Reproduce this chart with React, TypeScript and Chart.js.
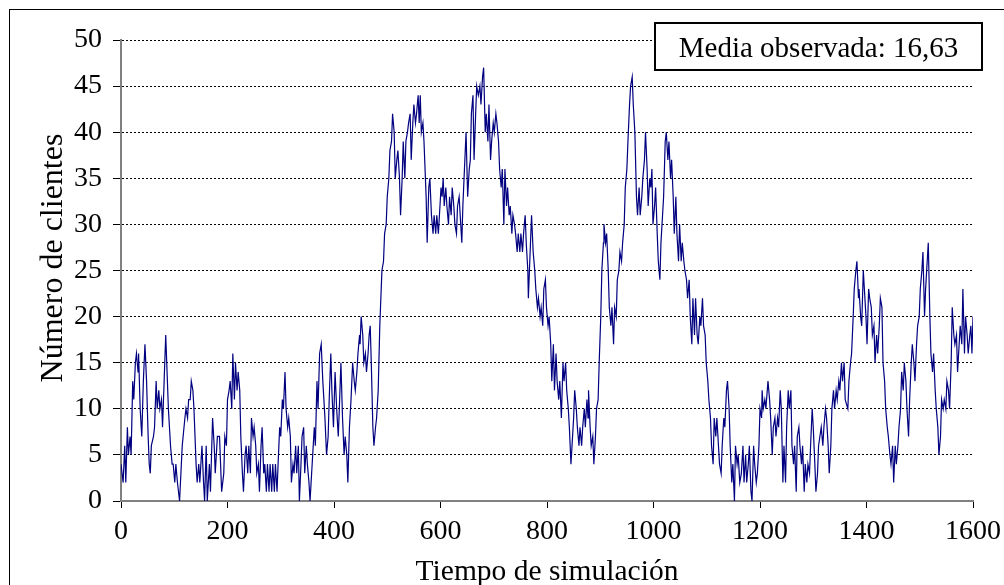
import { useEffect, useRef } from "react";
import { Chart, registerables } from "chart.js";

Chart.register(...registerables);

// Tiempo de simulación (eje X)
const tiempo: number[] = [
  0, 4, 7, 9, 12, 14, 17, 19, 22, 24, 27, 29, 32, 33, 36, 38, 39, 42, 45, 48, 51, 53, 55, 57, 61, 63, 66, 68, 71, 73, 76, 78, 81, 84, 89, 91, 93, 96, 98, 101, 103, 106, 110, 115, 120, 122, 125, 127, 130, 132, 135, 137, 141, 143, 146, 148, 152, 155, 157, 160, 162, 166, 168, 172, 175, 177, 181,
  185, 189, 193, 195, 198, 200, 203, 205, 208, 210, 213, 215, 218, 220, 223, 225, 228, 230, 233, 235, 238, 240, 243, 245, 248, 250, 253, 255, 258, 260, 263, 265, 268, 270, 273, 275, 278, 280, 283, 285, 288, 290, 293, 295, 298, 300, 303, 305, 308, 310, 313, 315, 318, 320, 323, 325, 328, 330, 333, 335, 338, 340, 343, 345, 348, 350, 353, 355, 358, 360, 363, 365, 368, 370, 373,
  376, 379, 383, 386, 389, 391, 394, 396, 399, 402, 405, 408, 410, 413, 416, 419, 421, 424, 426, 429, 432, 435, 438, 440, 443, 445, 448, 449, 451, 454, 456, 459, 461, 464, 466, 468, 470, 473, 475, 478, 480, 483, 486, 490, 493, 495, 498, 500, 503, 505, 508, 510, 513, 515, 518, 520, 523, 525, 528, 530, 533, 535, 538, 540, 543, 545, 548, 550, 553, 555, 558, 560, 562, 564, 567, 569, 573, 575, 578, 580,
  583, 586, 588, 591, 593, 596, 598, 601, 603, 605, 607, 610, 612, 615, 617, 620, 622, 625, 627, 630, 632, 635, 637, 640, 642, 645, 648, 651, 654, 656, 658, 661, 663, 666, 668, 671, 674, 676, 679, 681, 684, 686, 689, 691, 694, 696, 699, 701, 704, 706, 709, 711, 714, 716, 719, 721, 724, 726, 729, 731, 734, 736, 739, 741, 744, 746, 749, 751, 754, 756, 759, 761, 764, 765, 769, 771,
  774, 777, 779, 782, 784, 787, 789, 792, 794, 797, 799, 802, 804, 807, 809, 812, 814, 817, 819, 822, 824, 827, 830, 832, 835, 837, 840, 842, 845, 847, 850, 852, 855, 857, 860, 862, 865, 867, 870, 872, 875, 877, 878, 881, 883, 886, 888, 891, 893, 896, 898, 901, 903, 906, 907, 910, 912, 915, 917, 920, 922, 925, 927, 930, 932, 935, 937, 940, 942, 945, 947, 950, 952, 955, 957, 960, 962, 965,
  968, 970, 973, 975, 978, 980, 983, 985, 988, 990, 993, 995, 997, 999, 1002, 1004, 1007, 1009, 1012, 1014, 1017, 1019, 1022, 1024, 1027, 1029, 1032, 1034, 1037, 1039, 1042, 1044, 1047, 1049, 1052, 1054, 1057, 1059, 1062, 1064, 1067, 1069, 1072, 1074, 1077, 1079, 1082, 1084, 1087, 1089, 1092, 1094, 1097, 1099, 1102, 1104, 1107, 1109, 1112, 1114, 1117, 1119, 1122, 1124, 1127, 1129, 1132, 1134, 1137, 1139, 1142, 1144, 1147, 1149, 1152, 1154, 1157, 1159, 1162,
  1165, 1168, 1170, 1173, 1175, 1178, 1180, 1183, 1185, 1188, 1190, 1193, 1195, 1198, 1200, 1203, 1204, 1206, 1209, 1211, 1215, 1218, 1220, 1223, 1225, 1228, 1230, 1233, 1235, 1238, 1240, 1243, 1245, 1248, 1250, 1253, 1255, 1258, 1260, 1263, 1265, 1268, 1270, 1273, 1275, 1278, 1280, 1283, 1285, 1288, 1290, 1293, 1295, 1298, 1300, 1303, 1305, 1308, 1310, 1315, 1318, 1320, 1323, 1325, 1328, 1330, 1333, 1335, 1338, 1340, 1343, 1345, 1348, 1350, 1353, 1355, 1358, 1360,
  1365, 1367, 1370, 1372, 1375, 1377, 1380, 1382, 1385, 1386, 1389, 1391, 1394, 1396, 1399, 1401, 1404, 1406, 1409, 1411, 1414, 1416, 1419, 1421, 1424, 1426, 1429, 1431, 1434, 1436, 1439, 1441, 1444, 1446, 1449, 1451, 1454, 1456, 1459, 1461, 1464, 1466, 1469, 1471, 1474, 1476, 1479, 1481, 1484, 1486, 1489, 1491, 1494, 1496, 1499, 1501, 1504, 1506, 1509, 1511, 1514, 1516, 1519, 1521, 1524, 1526, 1529, 1531, 1534, 1536, 1539, 1541, 1544, 1546, 1549, 1551, 1554, 1556, 1559, 1561, 1564, 1566, 1569, 1571, 1574, 1576, 1579, 1581, 1584, 1586, 1589, 1591, 1594, 1596, 1598, 1600,
];

// Número de clientes en el sistema (eje Y)
const clientes: number[] = [
  4, 2, 6, 2, 8, 5, 7, 5, 13, 11, 15, 16, 14, 16, 10, 8, 7, 13, 17, 13, 7, 4, 3, 6, 7, 8, 13, 10, 12, 10, 11, 8, 13, 18, 10, 8, 6, 4, 4, 2, 4, 2, 0, 6, 9, 10, 9, 11, 11, 13, 12, 10, 4, 2, 4, 2, 6, 2, 0, 6, 0, 4, 1, 9, 6, 3, 7,
  7, 1, 3, 7, 6, 11, 12, 13, 10, 16, 11, 15, 12, 14, 12, 7, 3, 1, 5, 6, 3, 6, 3, 9, 7, 8, 6, 3, 4, 1, 6, 8, 3, 4, 1, 4, 1, 4, 1, 4, 1, 4, 1, 4, 8, 7, 11, 10, 14, 10, 8, 9, 7, 2, 4, 3, 6, 3, 6, 0, 4, 7, 8, 3, 6, 4, 2, 0, 3, 5, 8, 6, 13, 10, 16,
  17, 13, 9, 5, 7, 11, 16, 12, 8, 14, 10, 7, 10, 15, 9, 5, 7, 5, 2, 8, 11, 15, 13, 12, 14, 16, 18, 17, 20, 18, 15, 16, 14, 16, 18, 19, 15, 8, 6, 8, 9, 12, 19, 25, 26, 29, 30, 33, 35, 38, 39, 42, 40, 35, 37, 38, 35, 31, 35, 39, 35, 39, 40, 41, 42, 37, 41, 43, 41, 42, 44, 41, 44, 40, 41, 39, 33, 28, 34, 35,
  31, 29, 31, 29, 31, 29, 31, 34, 33, 35, 32, 34, 32, 30, 33, 31, 34, 32, 30, 29, 32, 33, 31, 28, 32, 36, 40, 33, 36, 37, 42, 44, 37, 42, 45, 44, 45, 43, 46, 47, 40, 42, 39, 43, 37, 39, 41, 40, 42, 41, 39, 36, 34, 36, 30, 36, 32, 34, 31, 32, 29, 31, 30, 29, 27, 29, 27, 29, 27, 29, 31, 28, 25, 22, 28, 31,
  27, 25, 23, 21, 22, 20, 21, 19, 23, 24, 21, 19, 20, 17, 13, 17, 12, 16, 13, 11, 13, 9, 15, 13, 15, 12, 10, 8, 4, 6, 9, 12, 10, 8, 6, 8, 6, 8, 10, 8, 11, 9, 12, 8, 6, 7, 4, 7, 10, 11, 15, 20, 25, 28, 30, 28, 29, 25, 21, 19, 21, 17, 21, 20, 24, 25, 27, 26, 28, 30, 34, 36, 39, 43, 45, 46, 43, 40,
  33, 31, 34, 31, 33, 35, 37, 40, 36, 32, 35, 34, 36, 30, 32, 34, 29, 26, 24, 28, 31, 33, 39, 40, 37, 39, 35, 37, 33, 29, 33, 29, 26, 30, 26, 28, 26, 25, 24, 22, 24, 20, 17, 22, 18, 22, 18, 17, 20, 19, 22, 19, 18, 15, 13, 11, 9, 6, 4, 9, 7, 9, 6, 4, 3, 6, 9, 8, 12, 13, 10, 6, 2, 4, 0, 6, 4, 5, 2,
  3, 6, 2, 5, 2, 4, 6, 1, 0, 6, 4, 2, 3, 6, 10, 9, 12, 10, 11, 10, 13, 11, 9, 5, 8, 9, 7, 9, 8, 12, 10, 2, 6, 2, 8, 12, 10, 12, 6, 4, 6, 1, 7, 8, 6, 4, 6, 1, 4, 2, 4, 3, 6, 10, 8, 4, 1, 3, 6, 8, 6, 8, 10, 9, 6, 3, 6, 10, 12, 10, 12, 11, 13, 12, 15, 13, 15, 11,
  10, 13, 15, 16, 20, 23, 25, 26, 22, 23, 20, 19, 25, 23, 20, 17, 23, 22, 21, 18, 19, 15, 18, 16, 19, 22, 21, 15, 13, 10, 8, 7, 5, 4, 6, 2, 6, 4, 6, 8, 10, 14, 12, 15, 13, 10, 7, 11, 15, 17, 15, 13, 17, 19, 20, 23, 25, 27, 20, 23, 26, 28, 20, 16, 14, 16, 12, 10, 8, 5, 7, 11, 10, 11, 10, 13, 12, 10, 15, 21, 18, 17, 18, 14, 17, 19, 17, 23, 16, 20, 18, 16, 18, 19, 16, 20,
];

const yTicks: number[] = [0, 5, 10, 15, 20, 25, 30, 35, 40, 45, 50];
const xTicks: number[] = [0, 200, 400, 600, 800, 1000, 1200, 1400, 1600];

const tituloX = "Tiempo de simulación";
const tituloY = "Número de clientes";
const textoMedia = "Media observada: 16,63";

const FONT = '"Liberation Serif", "Times New Roman", Times, serif';

export default function App() {
  const ref = useRef<HTMLCanvasElement>(null);

  useEffect(() => {
    const canvas = ref.current;
    if (!canvas) return;

    const puntos = tiempo.map((t, i) => ({ x: t, y: clientes[i] }));

    const decoracion = {
      id: "decoracion",
      afterDraw(chart: any) {
        const c = chart.ctx as CanvasRenderingContext2D;
        const a = chart.chartArea;
        c.save();
        // marco exterior
        c.strokeStyle = "#000";
        c.lineWidth = 1;
        c.strokeRect(9.5, 9.5, 1200, 800);

        // título eje Y
        c.fillStyle = "#000";
        c.font = `32px ${FONT}`;
        c.textAlign = "center";
        c.textBaseline = "alphabetic";
        c.save();
        c.translate(62, 258);
        c.rotate(-Math.PI / 2);
        c.fillText(tituloY, 0, 0);
        c.restore();

        // título eje X
        c.font = `29.5px ${FONT}`;
        c.fillText(tituloX, (a.left + a.right) / 2, 580);

        // cuadro de media
        c.fillStyle = "#fff";
        c.fillRect(654, 22, 329, 49);
        c.strokeStyle = "#000";
        c.lineWidth = 2;
        c.strokeRect(655, 23, 327, 47);
        c.fillStyle = "#000";
        c.font = `29px ${FONT}`;
        c.fillText(textoMedia, 818.5, 57);
        c.restore();
      },
    };

    const chart = new Chart(canvas, {
      type: "line",
      data: {
        datasets: [
          {
            label: "Clientes",
            data: puntos,
            borderColor: "#000080",
            borderWidth: 1.2,
            pointRadius: 0,
            tension: 0,
            fill: false,
          },
        ],
      },
      options: {
        animation: false,
        responsive: false,
        devicePixelRatio: 1,
        parsing: false as any,
        layout: { padding: { top: 40, right: 31, bottom: 0, left: 0 } },
        plugins: {
          legend: { display: false },
          tooltip: { enabled: false },
        },
        scales: {
          x: {
            type: "linear",
            min: xTicks[0],
            max: xTicks[xTicks.length - 1],
            afterBuildTicks: (s: any) => {
              s.ticks = xTicks.map((v) => ({ value: v }));
            },
            ticks: {
              color: "#000",
              font: { family: FONT, size: 28 },
              padding: 7,
              maxRotation: 0,
              autoSkip: false,
              callback: (v: any) => String(v),
            },
            grid: {
              drawOnChartArea: false,
              drawTicks: true,
              tickLength: 7,
              tickColor: "#000",
              tickWidth: 1,
            },
            border: { color: "#808080", width: 2 },
            afterFit: (s: any) => {
              s.height = 84;
              s.paddingLeft = 0;
              s.paddingRight = 0;
            },
          },
          y: {
            type: "linear",
            min: yTicks[0],
            max: yTicks[yTicks.length - 1],
            afterBuildTicks: (s: any) => {
              s.ticks = yTicks.map((v) => ({ value: v }));
            },
            ticks: {
              color: "#000",
              font: { family: FONT, size: 28 },
              padding: 11,
              autoSkip: false,
              callback: (v: any) => String(v),
            },
            grid: {
              color: "#000",
              lineWidth: 1,
              drawTicks: true,
              tickLength: 8,
              tickColor: "#000",
              tickWidth: 1,
            },
            border: { color: "#808080", width: 2, dash: [2, 2] },
            afterFit: (s: any) => {
              s.width = 121;
              s.paddingTop = 0;
              s.paddingBottom = 0;
            },
          },
        },
      },
      plugins: [decoracion],
    });

    return () => chart.destroy();
  }, []);

  return (
    <div style={{ position: "absolute", left: 0, top: 0, width: 1004, height: 585, background: "#fff" }}>
      <canvas ref={ref} width={1004} height={585} style={{ display: "block" }} />
    </div>
  );
}
